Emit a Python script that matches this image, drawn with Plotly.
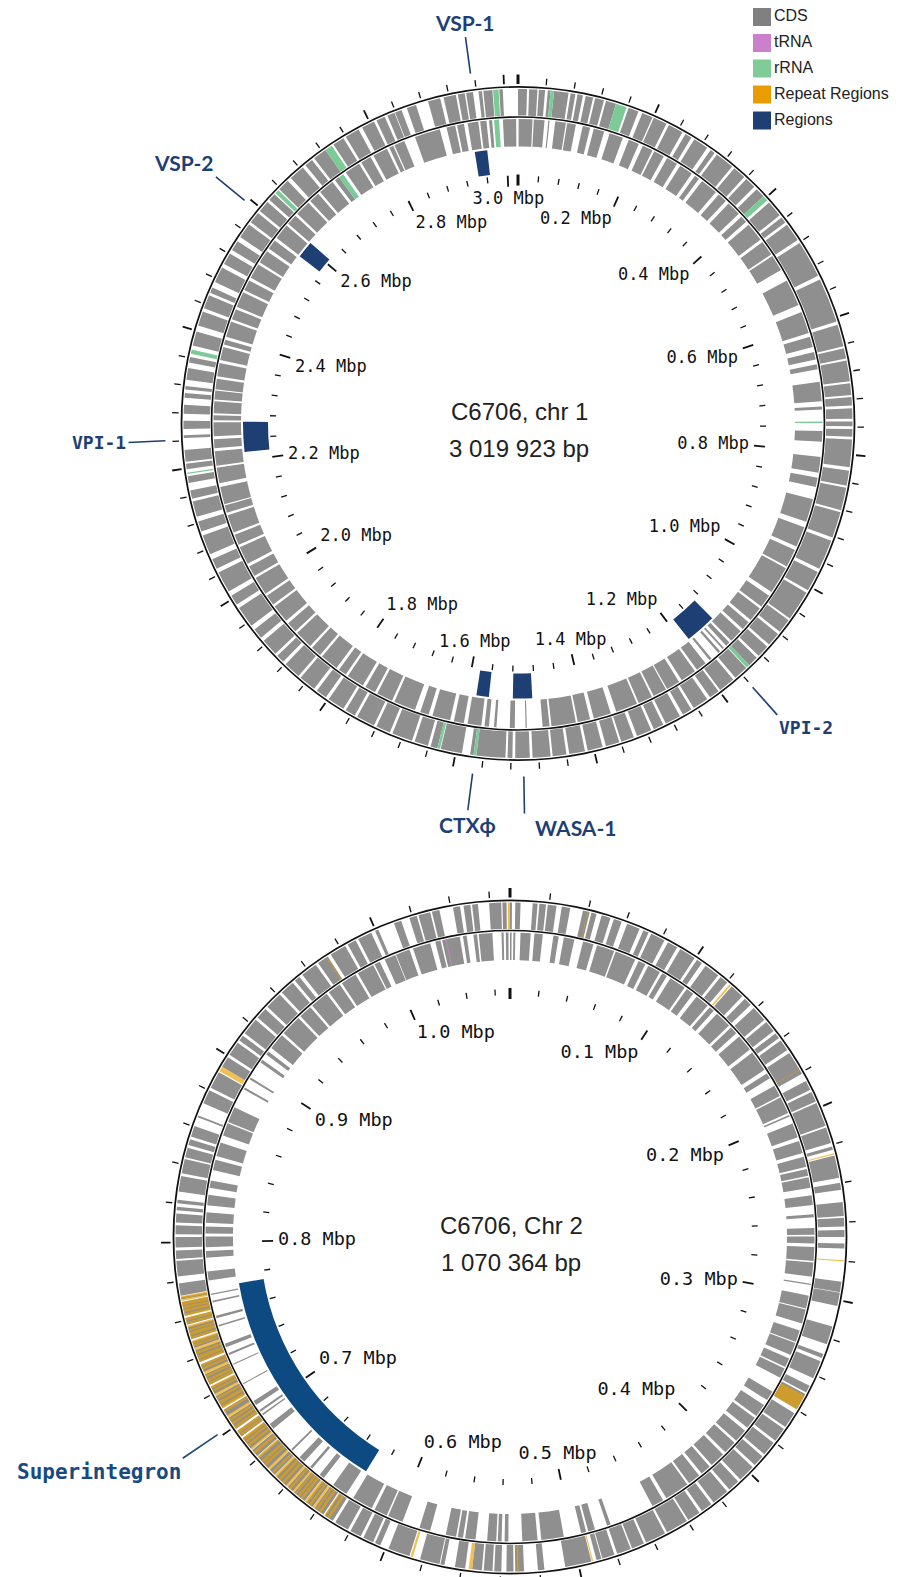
import math
import plotly.graph_objects as go

W, H = 903, 1577
RMAX = 340  # radial axis range, in px

# ------------------------------------------------------------------ data
CHR1_LEN_KB = 3019.923
CHR2_LEN_KB = 1070.364
CHR1_TITLE = ["C6706, chr 1", "3 019 923 bp"]
CHR2_TITLE = ["C6706, Chr 2", "1 070 364 bp"]

CHR1_TICK_STEP_KB = 40
CHR2_TICK_STEP_KB = 20
CHR1_LABEL_KB = [200, 400, 600, 800, 1000, 1200, 1400, 1600, 1800, 2000, 2200, 2400, 2600, 2800, 3000]
CHR1_LABELS = ["0.2 Mbp", "0.4 Mbp", "0.6 Mbp", "0.8 Mbp", "1.0 Mbp", "1.2 Mbp", "1.4 Mbp", "1.6 Mbp",
               "1.8 Mbp", "2.0 Mbp", "2.2 Mbp", "2.4 Mbp", "2.6 Mbp", "2.8 Mbp", "3.0 Mbp"]
CHR2_LABEL_KB = [100, 200, 300, 400, 500, 600, 700, 800, 900, 1000]
CHR2_LABELS = ["0.1 Mbp", "0.2 Mbp", "0.3 Mbp", "0.4 Mbp", "0.5 Mbp", "0.6 Mbp", "0.7 Mbp", "0.8 Mbp",
               "0.9 Mbp", "1.0 Mbp"]

# chromosome 1, forward strand (outer track) CDS blocks, kb
CHR1_CDS_FWD = [
    (0, 13), (16, 28), (30, 39), (43, 47), (52, 73), (76, 83), (86, 94), (98, 109), (112, 125), (128, 143),
    (162, 177), (183, 199), (201, 221), (225, 247), (252, 262), (267, 289), (295, 302), (306, 334), (338, 357),
    (361, 377), (382, 396), (408, 432), (436, 445), (449, 476), (481, 535), (541, 606), (611, 643), (646, 661),
    (664, 694), (697, 714), (717, 729), (733, 748), (752, 759), (763, 774), (778, 818), (823, 845), (848, 881),
    (884, 922), (927, 971), (976, 1006), (1010, 1054), (1057, 1078), (1082, 1102), (1106, 1124), (1128, 1143),
    (1149, 1170), (1174, 1198), (1201, 1216), (1221, 1244), (1248, 1262), (1267, 1290), (1294, 1309),
    (1313, 1335), (1340, 1359), (1362, 1382), (1387, 1409), (1413, 1436), (1440, 1460), (1463, 1489),
    (1493, 1514), (1518, 1525), (1528, 1570), (1574, 1579), (1591, 1622), (1627, 1637), (1641, 1661),
    (1665, 1695), (1699, 1720), (1724, 1751), (1755, 1770), (1774, 1799), (1804, 1820), (1825, 1850),
    (1854, 1879), (1884, 1896), (1900, 1925), (1931, 1946), (1953, 1984), (1990, 2005), (2012, 2043),
    (2049, 2064), (2072, 2101), (2107, 2122), (2129, 2152), (2156, 2168), (2179, 2189), (2199, 2207),
    (2210, 2227), (2244, 2248), (2257, 2269), (2279, 2292), (2302, 2309), (2314, 2319), (2328, 2345),
    (2353, 2361), (2378, 2399), (2408, 2429), (2434, 2454), (2458, 2466), (2475, 2498), (2504, 2521),
    (2527, 2542), (2549, 2571), (2575, 2592), (2596, 2613), (2617, 2628), (2638, 2655), (2661, 2684),
    (2689, 2701), (2705, 2725), (2739, 2756), (2760, 2781), (2787, 2806), (2810, 2823), (2827, 2838),
    (2839, 2849), (2857, 2871), (2889, 2907), (2912, 2930), (2933, 2943), (2945, 2955), (2963, 2968),
    (2970, 2983), (2993, 2998),
]
# chromosome 1, reverse strand (inner track) CDS blocks, kb
CHR1_CDS_REV = [
    (1, 23), (25, 42), (48, 50), (59, 76), (78, 92), (103, 115), (121, 138), (147, 169), (179, 196), (203, 220),
    (223, 240), (246, 264), (270, 292), (298, 306), (312, 340), (346, 361), (367, 390), (396, 407), (413, 443),
    (448, 472), (475, 501), (520, 563), (575, 610), (616, 633), (641, 653), (661, 669), (689, 720), (728, 733),
    (767, 784), (808, 833), (841, 856), (876, 913), (922, 955), (961, 990), (993, 1037), (1044, 1065),
    (1069, 1092), (1097, 1111), (1116, 1137), (1141, 1148), (1153, 1156), (1161, 1165), (1179, 1183),
    (1191, 1208), (1212, 1237), (1242, 1264), (1266, 1288), (1291, 1314), (1317, 1352), (1361, 1389),
    (1395, 1415), (1418, 1457), (1460, 1471), (1496, 1498), (1515, 1523), (1544, 1548), (1556, 1563),
    (1568, 1590), (1596, 1612), (1618, 1647), (1653, 1667), (1676, 1711), (1715, 1741), (1745, 1762),
    (1767, 1795), (1799, 1812), (1817, 1846), (1850, 1867), (1871, 1900), (1904, 1921), (1926, 1955),
    (1959, 1976), (1980, 2009), (2013, 2030), (2035, 2064), (2068, 2085), (2089, 2118), (2122, 2134),
    (2136, 2164), (2170, 2195), (2198, 2221), (2226, 2240), (2245, 2267), (2270, 2278), (2281, 2300),
    (2303, 2317), (2319, 2336), (2340, 2361), (2366, 2387), (2391, 2399), (2404, 2429), (2433, 2450),
    (2454, 2479), (2483, 2500), (2505, 2529), (2533, 2554), (2559, 2575), (2580, 2605), (2609, 2626),
    (2630, 2655), (2659, 2676), (2680, 2705), (2710, 2718), (2731, 2756), (2760, 2777), (2782, 2806),
    (2810, 2817), (2819, 2836), (2854, 2895), (2906, 2920), (2923, 2934), (2940, 2957), (2960, 2970),
    (2974, 2979), (2996, 3017),
]
CHR1_RRNA_FWD = [(47, 52), (143, 159), (396, 404), (1143, 1148), (1570, 1574), (1623, 1627), (2192, 2194),
                 (2366, 2372), (2630, 2636), (2725, 2736), (2984, 2992)]
CHR1_RRNA_REV = [(752, 754), (2718, 2726), (2982, 2990)]

# chromosome 2
CHR2_CDS_FWD = [
    (0, 1), (2.7, 5.4), (11.6, 14.1), (15.0, 18.4), (19.3, 23.8), (26.5, 30.9), (37.5, 41.0), (41.9, 44.6),
    (47.3, 52.0), (53.8, 58.0), (61.0, 67.8), (69.9, 72.8), (74.3, 81.8), (83.8, 89.2), (91.0, 99.6),
    (101.1, 104.1), (106.4, 114.5), (116.0, 120.4), (123.4, 130.8), (132.6, 136.8), (139.1, 147.2),
    (148.7, 154.6), (156.1, 159.1), (160.6, 166.5), (168.3, 180.8), (184.9, 190.0), (191.2, 196.5),
    (197.4, 209.9), (210.8, 219.1), (220.9, 222.7), (225.7, 237.3), (239.9, 243.5), (249.7, 256.9),
    (257.8, 262.2), (264.0, 267.6), (270.9, 273.5), (290.5, 295.8), (296.1, 303.0), (313.7, 323.2),
    (328.5, 330.6), (332.4, 341.9), (346.1, 349.9), (350.8, 359.8), (362.1, 370.5), (371.7, 379.1),
    (380.6, 388.0), (389.5, 395.4), (396.9, 405.8), (407.3, 413.3), (414.8, 423.7), (425.2, 431.1),
    (432.6, 439.4), (440.3, 451.9), (453.1, 463.8), (465.0, 471.5), (472.3, 479.6), (481.1, 487.5),
    (488.0, 490.6), (493.3, 506.9), (517.6, 520.9), (528.0, 532.5), (533.4, 537.0), (539.6, 543.2),
    (544.1, 548.6), (549.5, 554.5), (558.1, 563.4), (568.8, 570.9), (571.4, 581.6), (587.2, 598.5),
    (603.0, 605.9), (607.1, 612.5), (614.0, 619.9), (621.4, 628.8), (630.3, 635.1), (636.0, 641.6),
    (642.8, 646.7), (647.8, 654.7), (655.6, 658.9), (660.1, 666.9), (668.1, 671.6), (672.8, 680.3),
    (681.2, 685.0), (686.2, 692.8), (693.9, 697.5), (698.7, 705.5), (706.7, 710.3), (711.5, 718.3),
    (719.5, 723.7), (724.9, 730.8), (732.0, 736.2), (737.4, 743.9), (745.1, 748.6), (749.9, 756.4),
    (757.6, 761.1), (762.3, 769.5), (770.7, 771.9), (772.7, 779.0), (782.6, 790.6), (791.5, 795.9),
    (797.4, 802.8), (804.2, 808.7), (810.2, 814.7), (816.4, 818.2), (820.0, 821.8), (826.0, 834.0),
    (835.5, 842.9), (843.8, 848.8), (850.3, 853.3), (854.8, 860.4), (865.2, 866.1), (872.9, 880.1),
    (881.6, 890.5), (893.7, 899.4), (900.9, 908.3), (909.8, 912.8), (914.3, 923.2), (924.7, 930.6),
    (932.1, 941.0), (942.5, 949.9), (951.4, 954.4), (956.2, 964.8), (966.3, 972.2), (974.0, 982.6),
    (984.1, 988.6), (990.1, 997.5), (999.6, 1001.4), (1010.0, 1013.9), (1018.3, 1022.2), (1023.1, 1029.3),
    (1030.2, 1034.1), (1041.2, 1044.8), (1046.6, 1050.1), (1051.0, 1054.0), (1059.7, 1065.9),
    (1066.5, 1068.6),
]
CHR2_CDS_REV = [
    (0, 0.9), (1.9, 3.0), (5.9, 11.6), (13.7, 18.4), (24.4, 27.4), (30.3, 36.3), (41.3, 47.3), (49.4, 59.5),
    (60.4, 72.2), (74.3, 78.5), (80.3, 87.7), (89.2, 92.2), (94.5, 104.1), (105.5, 110.0), (112.4, 120.4),
    (121.9, 124.9), (127.3, 136.8), (138.3, 142.7), (145.1, 154.6), (156.7, 168.6), (171.0, 174.2),
    (179.0, 185.5), (186.4, 196.2), (197.4, 198.3), (202.5, 210.8), (212.9, 220.0), (222.1, 228.0),
    (229.2, 233.1), (234.0, 239.9), (244.1, 249.7), (254.8, 256.6), (262.5, 266.4), (267.3, 271.2),
    (273.2, 281.0), (281.9, 289.9), (293.8, 294.6), (300.6, 308.0), (308.6, 316.6), (320.8, 327.5),
    (328.2, 335.4), (337.5, 342.8), (343.7, 349.4), (358.3, 363.9), (367.2, 374.6), (376.1, 382.9),
    (385.0, 392.5), (394.0, 401.4), (403.2, 411.8), (413.3, 419.2), (421.0, 428.1), (429.3, 443.3),
    (445.4, 452.2), (477.8, 479.9), (487.0, 490.9), (492.1, 495.0), (504.9, 517.6), (519.7, 528.3),
    (536.1, 538.2), (539.9, 542.0), (542.9, 548.0), (554.5, 560.4), (561.6, 564.6), (565.5, 571.4),
    (580.4, 586.6), (596.7, 605.3), (606.2, 613.7), (615.5, 627.3), (631.8, 640.7), (647.3, 650.2),
    (655.6, 657.1), (661.5, 665.1), (670.5, 671.6), (686.8, 690.1), (696.3, 697.2), (698.7, 699.9),
    (703.2, 705.8), (716.8, 717.4), (729.0, 729.6), (735.0, 736.2), (739.7, 741.8), (751.9, 752.8),
    (756.7, 758.2), (765.9, 766.8), (770.1, 770.9), (778.4, 783.4), (791.2, 795.0), (797.1, 803.1),
    (804.8, 808.7), (810.8, 816.7), (820.6, 826.5), (830.4, 834.6), (840.5, 846.5), (848.6, 856.6),
    (860.7, 868.0), (868.8, 877.7), (889.0, 890.2), (895.5, 896.7), (906.8, 908.6), (912.2, 914.3),
    (916.9, 926.1), (927.6, 939.5), (941.0, 948.5), (949.9, 960.3), (961.8, 969.3), (970.7, 979.7),
    (981.2, 991.0), (991.8, 995.1), (998.1, 1004.6), (1005.0, 1013.0), (1015.1, 1025.2), (1028.1, 1031.1),
    (1032.0, 1042.1), (1043.9, 1046.0), (1049.8, 1051.9), (1052.8, 1060.5), (1065.6, 1066.8),
    (1068.0, 1069.5),
]
CHR2_REPEAT_FWD = [
    (40.0, 40.4), (121.9, 122.8), (178.2, 178.6), (224.5, 225.1), (279.5, 280.1), (351.7, 359.8),
    (492.4, 493.0), (530.7, 531.6), (554.5, 556.3), (585.4, 586.6),
    (632.1, 633.6), (634.5, 635.5), (637.5, 638.9), (639.8, 641.0), (641.6, 642.8), (643.8, 645.0),
    (645.8, 647.6), (649.0, 650.5), (651.1, 652.3), (653.2, 654.2), (654.7, 655.9), (657.0, 658.2),
    (658.9, 660.3), (661.5, 663.0), (663.9, 665.4), (666.5, 668.0), (669.0, 670.2), (671.6, 673.1),
    (674.5, 675.8), (676.4, 677.9), (679.5, 681.0), (682.6, 684.1), (685.2, 686.5), (687.4, 688.9),
    (689.8, 691.0), (691.6, 693.0), (694.2, 695.5), (696.0, 697.5), (699.0, 700.5), (701.4, 702.6),
    (703.5, 704.8), (705.5, 707.0), (708.8, 710.0), (711.0, 712.8), (713.6, 715.4), (716.2, 717.5),
    (718.3, 719.8), (720.8, 722.0), (722.5, 724.0), (725.0, 726.2), (726.7, 728.1), (729.0, 730.2),
    (730.8, 732.3), (733.3, 734.5), (735.0, 736.2), (737.5, 738.6), (739.1, 740.9), (741.8, 743.0),
    (743.6, 745.1), (746.0, 747.0), (747.5, 749.0), (750.0, 751.2), (751.9, 753.7), (754.2, 755.2),
    (755.8, 757.0), (757.8, 759.0), (759.6, 761.1), (762.0, 763.5), (764.1, 765.6), (766.0, 767.2),
    (767.7, 769.5), (770.0, 770.8), (771.0, 772.5),
    (891.1, 893.7), (971.2, 971.7), (1069.2, 1070.36),
]
CHR2_TRNA_REV = [(1034.0, 1034.5)]

# named regions: (name, start kb, end kb)
CHR1_REGIONS = [("VSP-1", 2944, 2966), ("VSP-2", 2579, 2609), ("VPI-1", 2215, 2268),
                ("VPI-2", 1133, 1188), ("CTXϕ", 1561, 1583), ("WASA-1", 1485, 1519)]
CHR2_REGIONS = [("Superintegron", 629, 774)]

LEGEND_NAMES = ["CDS", "tRNA", "rRNA", "Repeat Regions", "Regions"]

# ------------------------------------------------------------------ style
COL_CDS = "#8f8f8f"
COL_TRNA = "#cc80cc"
COL_RRNA = "#7ccb97"
COL_REPEAT = "#eba200"
COL_REGION1 = "#1d3f73"
COL_REGION2 = "#0d4a82"
LEGEND_COLORS = ["#808080", "#cc80cc", "#80cc99", "#e89c00", "#1d3f73"]
INK = "#111111"

CENTER = {1: (518, 423.5), 2: (510, 1237)}
LENGTH = {1: CHR1_LEN_KB, 2: CHR2_LEN_KB}
SUBPLOT = {1: "polar", 2: "polar2"}

OUT_TRACK = (308, 334.5)
IN_TRACK = (277, 304.5)
RINGS = [(335.6, 1.8), (305.6, 1.7)]
REGION_TRACK = (250, 275)

LABEL_STYLE = {
    "VSP-1": ("Lato", 21, "center", "bottom", 0),
    "VSP-2": ("Lato", 21, "right", "bottom", 0),
    "VPI-1": ("DejaVu Sans Mono", 18, "right", "middle", 0),
    "VPI-2": ("DejaVu Sans Mono", 18, "left", "top", 0),
    "CTXϕ": ("Lato", 21, "center", "top", 0),
    "WASA-1": ("Lato", 21, "left", "top", 9),
    "Superintegron": ("DejaVu Sans Mono", 21, "right", "top", 0),
}


def bar_trace(chrom, feats, radii, color, opacity=1.0):
    L = LENGTH[chrom]
    theta = [(s + e) / 2 / L * 360 for s, e in feats]
    width = [(e - s) / L * 360 for s, e in feats]
    return go.Barpolar(theta=theta, width=width, base=[radii[0]] * len(feats),
                       r=[radii[1] - radii[0]] * len(feats),
                       marker=dict(color=color, line=dict(width=0)), opacity=opacity,
                       subplot=SUBPLOT[chrom], hoverinfo="skip", showlegend=False)


def pt(chrom, kb, r):
    cx, cy = CENTER[chrom]
    a = math.radians(kb / LENGTH[chrom] * 360)
    return cx + r * math.sin(a), cy - r * math.cos(a)


def seg_trace(chrom, kbs, r0, r1, width, color):
    xs, ys = [], []
    for k in kbs:
        x0, y0 = pt(chrom, k, r0)
        x1, y1 = pt(chrom, k, r1)
        xs += [x0, x1, None]
        ys += [y0, y1, None]
    return go.Scatter(x=xs, y=ys, mode="lines", line=dict(color=color, width=width),
                      hoverinfo="skip", showlegend=False, xaxis="x", yaxis="y")


fig = go.Figure()

tracks = [
    (1, CHR1_CDS_FWD, OUT_TRACK, COL_CDS, 1.0), (1, CHR1_CDS_REV, IN_TRACK, COL_CDS, 1.0),
    (1, CHR1_RRNA_FWD, OUT_TRACK, COL_RRNA, 1.0), (1, CHR1_RRNA_REV, IN_TRACK, COL_RRNA, 1.0),
    (2, CHR2_CDS_FWD, OUT_TRACK, COL_CDS, 1.0), (2, CHR2_CDS_REV, IN_TRACK, COL_CDS, 1.0),
    (2, CHR2_TRNA_REV, IN_TRACK, COL_TRNA, 1.0), (2, CHR2_REPEAT_FWD, OUT_TRACK, COL_REPEAT, 0.68),
]
for chrom, feats, radii, color, op in tracks:
    fig.add_trace(bar_trace(chrom, feats, radii, color, op))

for chrom in (1, 2):
    L = LENGTH[chrom]
    for base, thick in RINGS:
        fig.add_trace(bar_trace(chrom, [(0, L)], (base, base + thick), INK))

fig.add_trace(bar_trace(1, [(s, e) for _, s, e in CHR1_REGIONS], REGION_TRACK, COL_REGION1))
fig.add_trace(bar_trace(2, [(s, e) for _, s, e in CHR2_REGIONS], REGION_TRACK, COL_REGION2))

# rulers
rulers = [(1, CHR1_TICK_STEP_KB, CHR1_LABEL_KB, CHR1_LABELS, 17),
          (2, CHR2_TICK_STEP_KB, CHR2_LABEL_KB, CHR2_LABELS, 18.5)]
for chrom, step, lab_kb, labs, fsize in rulers:
    L = LENGTH[chrom]
    ticks = [k * step for k in range(1, int(L // step) + 1)]
    minor = [t for t in ticks if t not in lab_kb]
    fig.add_trace(seg_trace(chrom, minor, 339.5, 346, 1.3, INK))
    fig.add_trace(seg_trace(chrom, lab_kb, 339.5, 349, 1.8, INK))
    fig.add_trace(seg_trace(chrom, [0], 339.5, 349, 3, INK))
    fig.add_trace(seg_trace(chrom, minor, 242, 248, 1.3, INK))
    fig.add_trace(seg_trace(chrom, lab_kb, 237, 248, 1.8, INK))
    fig.add_trace(seg_trace(chrom, [0], 238, 249, 3, INK))
    xs, ys, pos = [], [], []
    for k in lab_kb:
        x, y = pt(chrom, k, 232)
        a = math.radians(k / L * 360)
        s, c = math.sin(a), math.cos(a)
        h = "left" if s > 0.3 else ("right" if s < -0.3 else "center")
        v = "bottom" if c > 0.25 else ("top" if c < -0.25 else "middle")
        xs.append(x); ys.append(y); pos.append(f"{v} {h}")
    fig.add_trace(go.Scatter(x=xs, y=ys, mode="text", text=labs, textposition=pos,
                             textfont=dict(family="DejaVu Sans Mono", size=fsize, color=INK),
                             hoverinfo="skip", showlegend=False, xaxis="x", yaxis="y"))

# region leader lines + labels
annotations = []
for chrom, regions, color, r_end in [(1, CHR1_REGIONS, "#1e3f75", 390), (2, CHR2_REGIONS, "#184a80", 395)]:
    for name, s, e in regions:
        mid = (s + e) / 2
        fig.add_trace(seg_trace(chrom, [mid], 353, r_end, 1.6, color))
        x, y = pt(chrom, mid, r_end)
        fam, fs, xa, ya, xsh = LABEL_STYLE[name]
        annotations.append(dict(x=x, y=y, xref="x", yref="y", text=f"<b>{name}</b>", showarrow=False,
                                xanchor=xa, yanchor=ya, xshift=xsh,
                                font=dict(family=fam, size=fs, color=color)))

# centre titles
for chrom, lines in [(1, CHR1_TITLE), (2, CHR2_TITLE)]:
    cx, cy = CENTER[chrom]
    for i, t in enumerate(lines):
        annotations.append(dict(x=cx + 1, y=cy - 12 + 37 * i, xref="x", yref="y", text=t, showarrow=False,
                                font=dict(family="Liberation Sans", size=24, color="#222222")))

# legend
leg_y = [17, 43, 68.5, 94.5, 120.5]
fig.add_trace(go.Scatter(x=[762] * 5, y=leg_y, mode="markers",
                         marker=dict(symbol="square", size=18, color=LEGEND_COLORS, line=dict(width=0)),
                         hoverinfo="skip", showlegend=False, xaxis="x", yaxis="y"))
fig.add_trace(go.Scatter(x=[774] * 5, y=leg_y, mode="text", text=LEGEND_NAMES, textposition="middle right",
                         textfont=dict(family="Liberation Sans", size=16, color="#222222"),
                         hoverinfo="skip", showlegend=False, xaxis="x", yaxis="y"))


def polar_layout(chrom):
    cx, cy = CENTER[chrom]
    return dict(domain=dict(x=[(cx - RMAX) / W, (cx + RMAX) / W], y=[(H - cy - RMAX) / H, (H - cy + RMAX) / H]),
                bgcolor="rgba(0,0,0,0)", barmode="overlay", hole=0,
                angularaxis=dict(rotation=90, direction="clockwise", visible=False, showgrid=False,
                                 showline=False, ticks=""),
                radialaxis=dict(range=[0, RMAX], visible=False, showgrid=False, showline=False, ticks=""))


fig.update_layout(
    width=W, height=H, autosize=False, margin=dict(l=0, r=0, t=0, b=0, pad=0),
    paper_bgcolor="white", plot_bgcolor="rgba(0,0,0,0)", showlegend=False,
    xaxis=dict(range=[0, W], domain=[0, 1], visible=False, fixedrange=True),
    yaxis=dict(range=[H, 0], domain=[0, 1], visible=False, fixedrange=True),
    polar=polar_layout(1), polar2=polar_layout(2),
    annotations=annotations,
)

fig.write_html("out.html", config={"displayModeBar": False},
               post_script="document.body.style.margin='0';document.body.style.overflow='hidden';")
